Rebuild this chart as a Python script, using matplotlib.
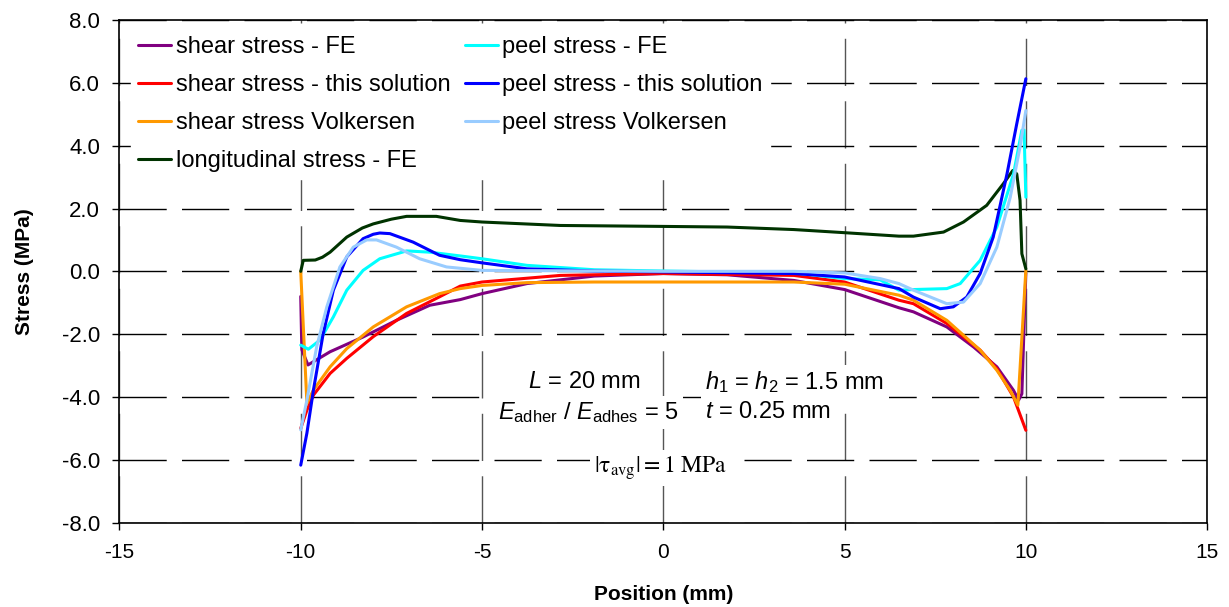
import matplotlib
matplotlib.use("Agg")
import matplotlib.pyplot as plt

plt.rcParams["font.family"] = ["Liberation Sans", "DejaVu Sans"]
plt.rcParams["mathtext.fontset"] = "custom"
plt.rcParams["mathtext.rm"] = "Liberation Sans"
plt.rcParams["mathtext.it"] = "Liberation Sans:italic"
plt.rcParams["axes.unicode_minus"] = False

# shear stress - FE
shear_fe_x = [-10, -9.97, -9.8, -9.19, -8.28, -7.36, -6.44, -5.6, -5, -3.76, -1.9, 0,
              1.76, 3.6, 5, 6.5, 6.9, 7.82, 8.56, 9.2, 9.66, 9.8, 9.89, 9.95, 10]
shear_fe_y = [-0.8, -2.5, -2.98, -2.56, -2.09, -1.56, -1.08, -0.9, -0.71, -0.39, -0.15, -0.07,
              -0.11, -0.29, -0.58, -1.16, -1.29, -1.77, -2.41, -3.04, -3.79, -4.1, -3.9, -1.77, -0.07]

# shear stress - this solution
shear_sol_x = [-10, -9.83, -9.65, -9.19, -8.73, -8.0, -7.08, -6.17, -5.6, -5, -2.84, 0,
               3.6, 5, 6.5, 6.9, 7.82, 8.74, 9.2, 9.66, 10]
shear_sol_y = [-5.0, -4.42, -3.94, -3.25, -2.77, -2.08, -1.34, -0.81, -0.47, -0.34, -0.13, -0.07,
               -0.13, -0.34, -0.92, -1.03, -1.66, -2.51, -3.1, -4.0, -5.06]

# shear stress Volkersen
shear_vol_x = [-10, -9.83, -9.65, -9.19, -8.73, -8.0, -7.08, -6.17, -5.6, -5, -3.76, -1.9, 0,
               3.6, 5, 6.5, 6.9, 7.82, 8.74, 9.2, 9.57, 9.78, 10]
shear_vol_y = [0.0, -4.2, -3.78, -3.04, -2.46, -1.77, -1.13, -0.71, -0.55, -0.45, -0.36, -0.34, -0.34,
               -0.34, -0.41, -0.76, -0.92, -1.56, -2.51, -3.15, -3.79, -4.26, 0.03]

# longitudinal stress - FE
long_fe_x = [-10, -9.93, -9.6, -9.4, -9.19, -8.73, -8.3, -8.0, -7.5, -7.08, -6.26, -5.6, -5, -2.84, 0,
             1.76, 3.6, 5, 6.5, 6.9, 7.73, 8.28, 8.92, 9.38, 9.64, 9.75, 9.84, 9.89, 10]
long_fe_y = [0.0, 0.35, 0.36, 0.45, 0.61, 1.09, 1.38, 1.51, 1.66, 1.75, 1.75, 1.62, 1.57, 1.46, 1.43,
             1.41, 1.33, 1.23, 1.12, 1.12, 1.25, 1.57, 2.1, 2.79, 3.21, 3.1, 2.26, 0.56, 0.08]

# peel stress - FE
peel_fe_x = [-10, -9.79, -9.47, -9.1, -8.73, -8.28, -7.82, -7.08, -6.44, -5.6, -5, -3.76, -1.9, 0,
             3.6, 5, 5.98, 6.5, 6.9, 7.82, 8.19, 8.74, 9.2, 9.66, 9.89, 9.95, 10]
peel_fe_y = [-2.35, -2.48, -2.19, -1.45, -0.6, 0.03, 0.4, 0.65, 0.61, 0.49, 0.4, 0.19, 0.05, 0.01,
             -0.05, -0.23, -0.27, -0.6, -0.58, -0.55, -0.39, 0.35, 1.41, 3.1, 4.49, 4.5, 2.36]

# peel stress - this solution
peel_sol_x = [-10, -9.83, -9.65, -9.38, -9.1, -8.73, -8.28, -8.0, -7.82, -7.54, -6.9, -6.17, -5.6, -5,
              -3.76, -1.9, 0, 3.6, 5, 6.5, 6.9, 7.64, 8.0, 8.37, 8.74, 9.1, 9.48, 9.75, 10]
peel_sol_y = [-6.17, -5.15, -3.78, -1.98, -0.6, 0.46, 1.04, 1.18, 1.22, 1.2, 0.93, 0.51, 0.37, 0.27,
              0.08, 0.01, -0.02, -0.07, -0.18, -0.55, -0.82, -1.19, -1.13, -0.82, -0.07, 1.09, 3.1, 4.7, 6.13]

# peel stress Volkersen
peel_vol_x = [-10, -9.83, -9.56, -9.28, -8.92, -8.55, -8.18, -7.91, -7.36, -6.72, -5.98, -5,
              0, 3.6, 5, 5.98, 6.5, 6.9, 7.82, 8.28, 8.74, 9.2, 9.57, 9.84, 10]
peel_vol_y = [-5.05, -4.1, -2.4, -1.13, 0.14, 0.77, 1.0, 1.0, 0.77, 0.4, 0.14, 0.03,
              0.0, 0.0, -0.05, -0.23, -0.39, -0.6, -1.03, -0.98, -0.39, 0.77, 2.36, 3.96, 5.12]

series = [
    ("shear stress - FE", shear_fe_x, shear_fe_y, "#800080"),
    ("shear stress - this solution", shear_sol_x, shear_sol_y, "#FF0000"),
    ("shear stress Volkersen", shear_vol_x, shear_vol_y, "#FF9900"),
    ("longitudinal stress - FE", long_fe_x, long_fe_y, "#003300"),
    ("peel stress - FE", peel_fe_x, peel_fe_y, "#00FFFF"),
    ("peel stress - this solution", peel_sol_x, peel_sol_y, "#0000FF"),
    ("peel stress Volkersen", peel_vol_x, peel_vol_y, "#99CCFF"),
]

x_ticks = [-15, -10, -5, 0, 5, 10, 15]
y_ticks = [-8, -6, -4, -2, 0, 2, 4, 6, 8]

fig = plt.figure(figsize=(12.29, 6.07), dpi=100)
ax = fig.add_axes([0.0972, 0.139, 0.885, 0.828])

for label, xs, ys, color in series:
    ax.plot(xs, ys, color=color, lw=2.2, label=label,
            solid_joinstyle="round", solid_capstyle="round")

ax.set_xlim(-15, 15)
ax.set_ylim(-8, 8)
ax.set_xticks(x_ticks)
ax.set_yticks(y_ticks)
ax.set_yticklabels([f"{v:.1f}" for v in y_ticks])
ax.tick_params(direction="out", length=5, width=1, colors="black")
ax.tick_params(axis="y", labelsize=16, pad=9)
ax.tick_params(axis="x", labelsize=15, pad=10)

ax.grid(True, color="black", lw=1, linestyle=(0, (34, 11)))
ax.xaxis.grid(True, color="#555555")
ax.set_axisbelow(True)
for sp in ax.spines.values():
    sp.set_linewidth(1.2)

ax.set_xlabel("Position (mm)", fontsize=15, fontweight="bold", labelpad=16)
ax.set_ylabel("Stress (MPa)", fontsize=15, fontweight="bold", labelpad=20)

handles, labels = ax.get_legend_handles_labels()
leg = ax.legend(handles, labels, ncol=2, loc="upper left", bbox_to_anchor=(0.004, 0.996),
                fontsize=17, frameon=True, handlelength=1.4, handletextpad=0.2,
                columnspacing=0.6, labelspacing=0.68, borderaxespad=0.3, borderpad=0.3)
leg.get_frame().set_edgecolor("white")
leg.get_frame().set_facecolor("white")
leg.get_frame().set_alpha(1)

box = dict(facecolor="white", edgecolor="none", pad=3)
ax.text(-2.18, -3.53, "$L$ = 20 mm", fontsize=17, ha="center", va="center", bbox=box)
ax.text(-2.07, -4.49, "$E_{\\mathrm{adher}}$ / $E_{\\mathrm{adhes}}$ = 5",
        fontsize=17, ha="center", va="center", bbox=box)
ax.text(1.16, -3.53, "$h_{\\mathrm{1}}$ = $h_{\\mathrm{2}}$ = 1.5 mm",
        fontsize=17, ha="left", va="center", bbox=box)
ax.text(1.16, -4.49, "$t$ = 0.25 mm", fontsize=17, ha="left", va="center", bbox=box)
ax.text(-0.07, -6.27, r"$|\mathrm{\tau}_{\mathrm{avg}}| = 1\ \mathrm{MPa}$", fontsize=17,
        ha="center", va="center", math_fontfamily="stix", bbox=box)

fig.savefig("out.png", dpi=100, facecolor="white")
